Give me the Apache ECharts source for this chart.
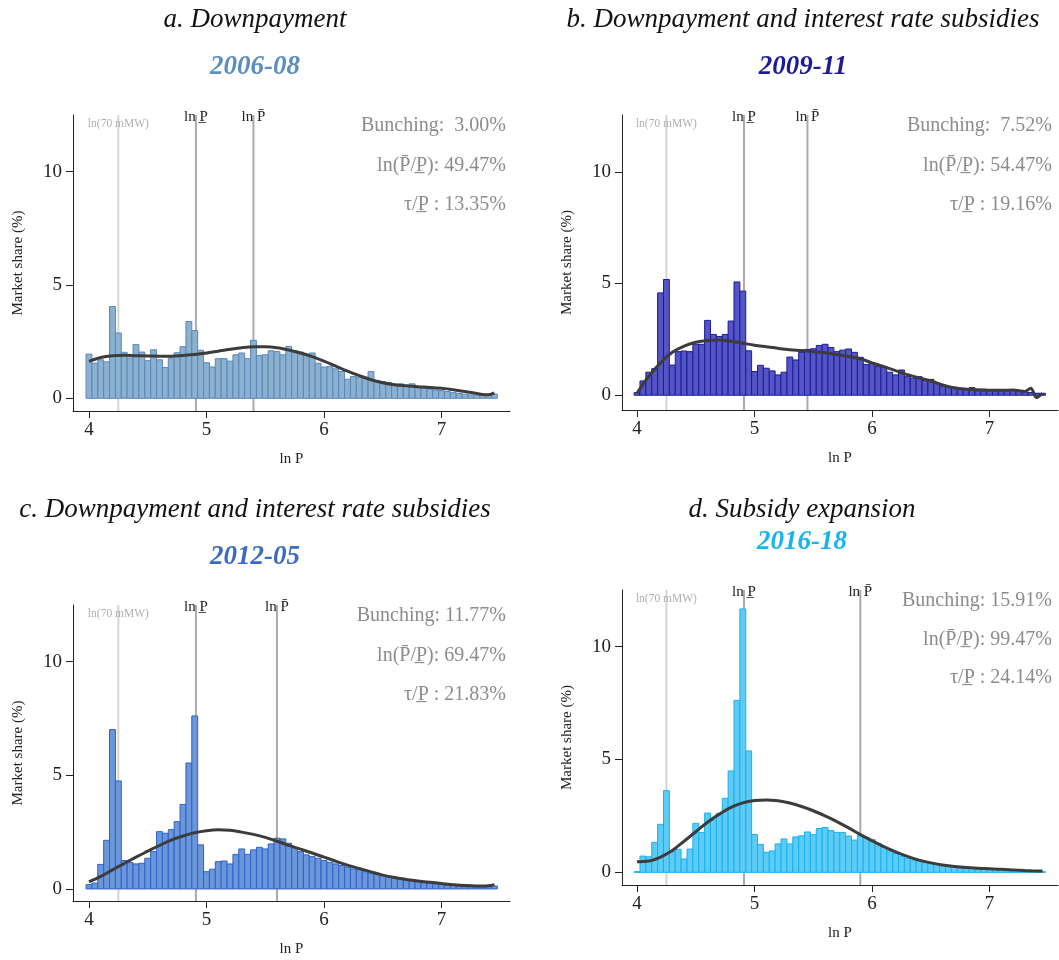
<!DOCTYPE html>
<html>
<head>
<meta charset="utf-8">
<script src="https://cdn.jsdelivr.net/npm/echarts@6/dist/echarts.min.js"></script>
<style>
  html, body { margin: 0; padding: 0; background: #fff; }
  #chart { width: 1059px; height: 960px; }
</style>
</head>
<body>
<div id="chart"></div>
<script>
// Bin centres of the ln P histogram (bin width 0.05)
const binCenters = [
  4.00, 4.05, 4.10, 4.15, 4.20, 4.25, 4.30, 4.35, 4.40, 4.45,
  4.50, 4.55, 4.60, 4.65, 4.70, 4.75, 4.80, 4.85, 4.90, 4.95,
  5.00, 5.05, 5.10, 5.15, 5.20, 5.25, 5.30, 5.35, 5.40, 5.45,
  5.50, 5.55, 5.60, 5.65, 5.70, 5.75, 5.80, 5.85, 5.90, 5.95,
  6.00, 6.05, 6.10, 6.15, 6.20, 6.25, 6.30, 6.35, 6.40, 6.45,
  6.50, 6.55, 6.60, 6.65, 6.70, 6.75, 6.80, 6.85, 6.90, 6.95,
  7.00, 7.05, 7.10, 7.15, 7.20, 7.25, 7.30, 7.35, 7.40, 7.45
];
const BIN_WIDTH = 0.05;

// Market share (%) per bin
const share0608 = [
  1.95, 1.55, 1.70, 1.61, 4.05, 2.88, 2.03, 1.78, 2.37, 2.04,
  1.66, 2.14, 1.70, 1.36, 1.78, 2.01, 2.28, 3.39, 2.99, 2.12,
  1.57, 1.38, 1.75, 1.75, 1.64, 1.92, 2.00, 1.75, 2.56, 1.89,
  1.92, 2.10, 2.06, 1.92, 2.29, 2.10, 2.04, 1.92, 2.00, 1.55,
  1.38, 1.41, 1.30, 1.18, 0.84, 0.96, 0.93, 0.93, 1.18, 0.78,
  0.74, 0.70, 0.62, 0.64, 0.58, 0.64, 0.49, 0.44, 0.41, 0.37,
  0.34, 0.30, 0.25, 0.22, 0.18, 0.15, 0.15, 0.13, 0.15, 0.19
];
const share0911 = [
  0.12, 0.64, 1.03, 1.19, 4.58, 5.18, 1.35, 1.95, 1.98, 1.95,
  2.28, 2.28, 3.35, 2.72, 2.63, 2.72, 3.32, 5.07, 4.66, 1.99,
  1.06, 1.34, 1.21, 1.09, 0.91, 1.03, 1.71, 1.58, 1.92, 2.05,
  2.08, 2.23, 2.28, 2.14, 1.95, 2.02, 2.07, 1.92, 1.70, 1.38,
  1.43, 1.28, 1.25, 1.03, 0.91, 1.13, 0.83, 0.76, 0.83, 0.68,
  0.71, 0.54, 0.42, 0.39, 0.36, 0.30, 0.27, 0.34, 0.27, 0.27,
  0.24, 0.21, 0.21, 0.22, 0.21, 0.18, 0.16, 0.12, 0.09, 0.09
];
const share1205 = [
  0.19, 0.26, 1.08, 2.14, 7.01, 4.75, 1.25, 1.16, 1.10, 1.13,
  1.35, 1.64, 2.52, 2.45, 2.61, 2.96, 3.72, 5.54, 7.61, 1.94,
  0.76, 0.87, 1.20, 1.23, 1.10, 1.52, 1.76, 1.52, 1.72, 1.83,
  1.76, 1.98, 2.23, 2.20, 2.01, 1.82, 1.64, 1.50, 1.42, 1.35,
  1.25, 1.17, 1.10, 1.03, 0.97, 0.88, 0.85, 0.76, 0.70, 0.66,
  0.59, 0.54, 0.51, 0.45, 0.41, 0.37, 0.32, 0.29, 0.25, 0.22,
  0.19, 0.16, 0.15, 0.12, 0.10, 0.10, 0.09, 0.09, 0.10, 0.13
];
const share1618 = [
  0.03, 0.72, 0.69, 1.33, 2.13, 3.62, 0.92, 1.02, 0.59, 1.03,
  2.17, 1.77, 2.63, 2.32, 2.61, 3.28, 4.49, 7.62, 11.67, 5.38,
  1.68, 1.24, 0.89, 0.95, 1.26, 1.48, 1.26, 1.57, 1.62, 1.79,
  1.67, 1.94, 1.99, 1.85, 1.77, 1.77, 1.61, 1.43, 1.65, 1.55,
  1.46, 1.29, 1.11, 0.95, 0.84, 0.72, 0.62, 0.55, 0.50, 0.44,
  0.40, 0.35, 0.32, 0.30, 0.28, 0.25, 0.22, 0.21, 0.19, 0.16,
  0.15, 0.13, 0.12, 0.10, 0.09, 0.07, 0.06, 0.06, 0.04, 0.03
];

// Kernel density evaluation points and estimates
const kdeX = [
  4.0, 4.1, 4.2, 4.3, 4.4, 4.5, 4.6, 4.7, 4.8, 4.9,
  5.0, 5.1, 5.2, 5.3, 5.4, 5.5, 5.6, 5.7, 5.8, 5.9,
  6.0, 6.1, 6.2, 6.3, 6.4, 6.5, 6.6, 6.7, 6.8, 6.9,
  7.0, 7.1, 7.2, 7.3, 7.35, 7.4, 7.45
];
const kde0608 = [
  1.63, 1.80, 1.88, 1.90, 1.88, 1.87, 1.86, 1.86, 1.89, 1.93,
  2.00, 2.08, 2.16, 2.23, 2.27, 2.27, 2.23, 2.13, 2.00, 1.84,
  1.64, 1.42, 1.20, 1.00, 0.82, 0.69, 0.60, 0.55, 0.51, 0.48,
  0.44, 0.38, 0.30, 0.21, 0.17, 0.16, 0.24
];
const kde0911 = [
  0.09, 0.85, 1.45, 1.92, 2.20, 2.37, 2.45, 2.47, 2.42, 2.33,
  2.24, 2.17, 2.10, 2.04, 2.00, 1.95, 1.90, 1.82, 1.73, 1.63,
  1.45, 1.28, 1.10, 0.92, 0.77, 0.64, 0.46, 0.33, 0.27, 0.24,
  0.22, 0.22, 0.23, 0.17, 0.31, -0.10, 0.09
];
const kde1205 = [
  0.31, 0.55, 0.84, 1.12, 1.40, 1.66, 1.92, 2.15, 2.33, 2.47,
  2.56, 2.60, 2.58, 2.50, 2.40, 2.27, 2.10, 1.92, 1.75, 1.58,
  1.40, 1.22, 1.05, 0.90, 0.75, 0.61, 0.50, 0.42, 0.35, 0.29,
  0.24, 0.19, 0.15, 0.13, 0.13, 0.14, 0.19
];
const kde1618 = [
  0.47, 0.50, 0.68, 0.97, 1.38, 1.80, 2.22, 2.58, 2.88, 3.08,
  3.18, 3.21, 3.17, 3.07, 2.92, 2.73, 2.50, 2.25, 1.97, 1.67,
  1.40, 1.14, 0.91, 0.71, 0.54, 0.42, 0.33, 0.26, 0.21, 0.18,
  0.16, 0.14, 0.11, 0.08, 0.07, 0.06, 0.06
];

// Reference prices (ln): 70 times monthly minimum wage, program floor, program ceiling
const lnMinWage = 4.25;
const lnFloor = 4.91;
const lnCeiling = [5.40, 5.45, 5.60, 5.90];

// Panel texts
const panelTitles = [
  'a. Downpayment',
  'b. Downpayment and interest rate subsidies',
  'c. Downpayment and interest rate subsidies',
  'd. Subsidy expansion'
];
const periods = ['2006-08', '2009-11', '2012-05', '2016-18'];
const bunching = ['3.00%', '7.52%', '11.77%', '15.91%'];
const logRatio = ['49.47%', '54.47%', '69.47%', '99.47%'];
const tauRatio = ['13.35%', '19.16%', '21.83%', '24.14%'];
const xTicks = [4, 5, 6, 7];
const yTicks = [0, 5, 10];

const SERIF = '"Liberation Serif", "DejaVu Serif", serif';
const P_LOW = 'P\u0332';
const P_HIGH = 'P\u0304';

const panels = [
  { share: share0608, kde: kde0608, fill: '#8cb0cf', stroke: '#5a88b8', periodColor: '#5b8dbf',
    grid: { left: 73, top: 115, width: 437, height: 296 }, xr: [3.864, 7.583], yr: [-0.56, 12.5],
    titleX: 255, titleY: 20, periodY: 67, statsRight: 506, statsY: [126, 166, 205] },
  { share: share0911, kde: kde0911, fill: '#5454c2', stroke: '#1c1c9c', periodColor: '#1c1c96',
    grid: { left: 622, top: 115, width: 436, height: 295 }, xr: [3.872, 7.582], yr: [-0.66, 12.54],
    titleX: 803, titleY: 20, periodY: 67, statsRight: 1052, statsY: [126, 166, 205] },
  { share: share1205, kde: kde1205, fill: '#6b96d9', stroke: '#2e62c8', periodColor: '#3a6ac6',
    grid: { left: 73, top: 605, width: 437, height: 296 }, xr: [3.864, 7.583], yr: [-0.53, 12.49],
    titleX: 255, titleY: 510, periodY: 557, statsRight: 506, statsY: [616, 656, 695] },
  { share: share1618, kde: kde1618, fill: '#5ccbf5', stroke: '#1ab0ee', periodColor: '#1ab3ef',
    grid: { left: 622, top: 590, width: 436, height: 295 }, xr: [3.872, 7.582], yr: [-0.56, 12.51],
    titleX: 802, titleY: 510, periodY: 542, statsRight: 1052, statsY: [601, 640, 678] }
];

const grids = [], xAxes = [], yAxes = [], series = [], graphics = [];

panels.forEach((p, i) => {
  grids.push(Object.assign({ containLabel: false }, p.grid));

  xAxes.push({
    type: 'value', gridIndex: i, min: p.xr[0], max: p.xr[1],
    name: 'ln P', nameLocation: 'middle', nameGap: 41,
    nameTextStyle: { fontFamily: SERIF, fontSize: 15, color: '#222' },
    axisLine: { show: true, onZero: false, lineStyle: { color: '#222', width: 1 } },
    axisTick: { show: true, length: 7, customValues: xTicks, lineStyle: { color: '#222' } },
    axisLabel: { customValues: xTicks, margin: 10, fontFamily: SERIF, fontSize: 19, color: '#222' },
    splitLine: { show: false }
  });

  yAxes.push({
    type: 'value', gridIndex: i, min: p.yr[0], max: p.yr[1],
    name: 'Market share (%)', nameLocation: 'middle', nameGap: 47,
    nameTextStyle: { fontFamily: SERIF, fontSize: 15, color: '#222' },
    axisLine: { show: true, onZero: false, lineStyle: { color: '#222', width: 1 } },
    axisTick: { show: true, length: 7, customValues: yTicks, lineStyle: { color: '#222' } },
    axisLabel: { customValues: yTicks, margin: 11, fontFamily: SERIF, fontSize: 19, color: '#222' },
    splitLine: { show: false }
  });

  // Reference lines with their labels
  const refs = [
    [lnMinWage, 'ln(70 mMW)', 'mw'],
    [lnFloor, 'ln ' + P_LOW, 'ref'],
    [lnCeiling[i], 'ln ' + P_HIGH, 'ref']
  ];
  series.push({
    type: 'custom', xAxisIndex: i, yAxisIndex: i, z: 1, silent: true,
    data: refs,
    encode: { x: 0 },
    renderItem: function (params, api) {
      const cs = params.coordSys;
      const x = api.coord([api.value(0), 0])[0];
      const kind = refs[params.dataIndex][2];
      const label = refs[params.dataIndex][1];
      const isMw = kind === 'mw';
      return {
        type: 'group',
        children: [
          { type: 'line', shape: { x1: x, y1: cs.y, x2: x, y2: cs.y + cs.height },
            style: { stroke: isMw ? '#d4d4d4' : '#ababab', lineWidth: 2 } },
          { type: 'text', x: x, y: cs.y + (isMw ? 9 : 2),
            style: { text: label, align: 'center', verticalAlign: 'middle',
                     font: (isMw ? '11.5px ' : '15px ') + SERIF,
                     fill: isMw ? '#b0b0b0' : '#222' } }
        ]
      };
    }
  });

  // Histogram bars
  series.push({
    type: 'custom', xAxisIndex: i, yAxisIndex: i, z: 2, silent: true,
    data: binCenters.map((c, k) => [c, p.share[k]]),
    encode: { x: 0, y: 1 },
    renderItem: function (params, api) {
      const c = api.value(0), v = api.value(1);
      const p0 = api.coord([c - BIN_WIDTH / 2, 0]);
      const p1 = api.coord([c + BIN_WIDTH / 2, v]);
      return {
        type: 'rect',
        shape: { x: p0[0], y: p1[1], width: p1[0] - p0[0], height: p0[1] - p1[1] },
        style: { fill: p.fill, stroke: p.stroke, lineWidth: 1 }
      };
    }
  });

  // Kernel density
  series.push({
    type: 'line', xAxisIndex: i, yAxisIndex: i, z: 3, silent: true,
    data: kdeX.map((x, k) => [x, p.kde[k]]),
    smooth: 0.35, symbol: 'none',
    lineStyle: { color: '#3c3c3c', width: 3 }
  });

  // Titles
  graphics.push({ type: 'text', x: p.titleX, y: p.titleY,
    style: { text: panelTitles[i], align: 'center', verticalAlign: 'middle',
             font: 'italic 27px ' + SERIF, fill: '#111' } });
  graphics.push({ type: 'text', x: p.titleX, y: p.periodY,
    style: { text: periods[i], align: 'center', verticalAlign: 'middle',
             font: 'italic bold 27px ' + SERIF, fill: p.periodColor } });

  // Summary statistics
  const stats = [
    'Bunching: ' + (bunching[i].length < 6 ? ' ' : '') + bunching[i],
    'ln(' + P_HIGH + '/' + P_LOW + '): ' + logRatio[i],
    '\u03C4/' + P_LOW + ' : ' + tauRatio[i]
  ];
  stats.forEach((s, j) => {
    graphics.push({ type: 'text', x: p.statsRight, y: p.statsY[j],
      style: { text: s, align: 'right', verticalAlign: 'middle',
               font: '20px ' + SERIF, fill: '#8c8c8c' } });
  });
});

const chart = echarts.init(document.getElementById('chart'), null, { renderer: 'canvas' });
chart.setOption({
  animation: false,
  backgroundColor: '#fff',
  grid: grids,
  xAxis: xAxes,
  yAxis: yAxes,
  series: series,
  graphic: graphics
});
</script>
</body>
</html>
